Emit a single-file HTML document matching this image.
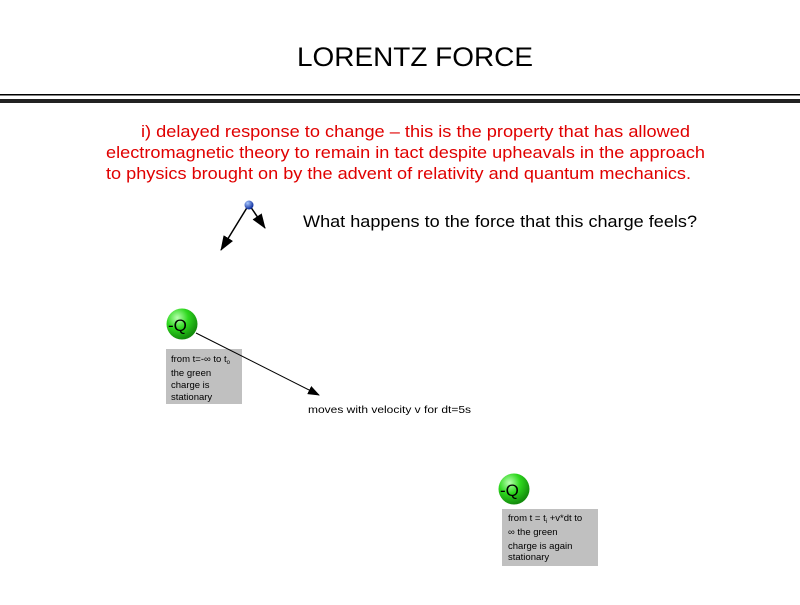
<!DOCTYPE html>
<html><head><meta charset="utf-8"><style>
body{margin:0;width:800px;height:600px;background:#fff;overflow:hidden;font-family:"Liberation Sans",sans-serif}
</style></head><body>
<svg width="800" height="600" xmlns="http://www.w3.org/2000/svg" font-family="Liberation Sans, sans-serif">
<defs>
<radialGradient id="g" cx="0.35" cy="0.3" r="0.7"><stop offset="0" stop-color="#b8ffb0"/><stop offset="0.5" stop-color="#2ed81e"/><stop offset="1" stop-color="#138c0c"/></radialGradient>
<radialGradient id="b" cx="0.35" cy="0.3" r="0.7"><stop offset="0" stop-color="#a8c8ff"/><stop offset="1" stop-color="#0a2a9a"/></radialGradient>
<marker id="a" markerWidth="12" markerHeight="9" refX="11" refY="4.5" orient="auto" markerUnits="userSpaceOnUse"><path d="M0,0 L12,4.5 L0,9 z" fill="#000"/></marker>
<marker id="a2" markerWidth="15" markerHeight="11" refX="14" refY="5.5" orient="auto" markerUnits="userSpaceOnUse"><path d="M0,0 L15,5.5 L0,11 z" fill="#000"/></marker>
</defs>
<text x="297" y="66" font-size="27" textLength="236" lengthAdjust="spacingAndGlyphs">LORENTZ FORCE</text>
<rect x="0" y="94" width="800" height="1.5" fill="#000"/>
<rect x="0" y="99" width="800" height="4" fill="#222"/>
<g fill="#e00000" font-size="17" lengthAdjust="spacingAndGlyphs">
<text x="141" y="137" textLength="549" lengthAdjust="spacingAndGlyphs">i) delayed response to change – this is the property that has allowed</text>
<text x="106" y="158" textLength="599" lengthAdjust="spacingAndGlyphs">electromagnetic theory to remain in tact despite upheavals in the approach</text>
<text x="106" y="179" textLength="585" lengthAdjust="spacingAndGlyphs">to physics brought on by the advent of relativity and quantum mechanics.</text>
</g>
<text x="303" y="227" font-size="17" textLength="394" lengthAdjust="spacingAndGlyphs">What happens to the force that this charge feels?</text>
<line x1="248" y1="206" x2="221" y2="250" stroke="#000" stroke-width="1.5" marker-end="url(#a2)"/>
<line x1="250" y1="206" x2="265" y2="228" stroke="#000" stroke-width="1.5" marker-end="url(#a2)"/>
<circle cx="249" cy="205" r="4.5" fill="url(#b)"/>
<rect x="166" y="349" width="76" height="55" fill="#c0c0c0"/>
<g font-size="9.5"><text x="171" y="362">from t=-∞  to t<tspan font-size="6" dy="2">o</tspan></text>
<text x="171" y="376">the green</text><text x="171" y="388">charge is</text><text x="171" y="400">stationary</text></g>
<line x1="196" y1="333" x2="319" y2="395" stroke="#000" stroke-width="1" marker-end="url(#a)"/>
<circle cx="182" cy="324" r="15.5" fill="url(#g)"/>
<text x="168" y="331" font-size="17">-Q</text>
<text x="308" y="413" font-size="10.5" textLength="163" lengthAdjust="spacingAndGlyphs">moves with velocity v for dt=5s</text>
<rect x="502" y="509" width="96" height="57" fill="#c0c0c0"/>
<g font-size="9.5"><text x="508" y="521">from t =  t<tspan font-size="6" dy="2">i</tspan><tspan dy="-2"> +v*dt  to</tspan></text>
<text x="508" y="535">∞  the green</text><text x="508" y="549">charge is again</text><text x="508" y="560">stationary</text></g>
<circle cx="514" cy="489" r="15.5" fill="url(#g)"/>
<text x="500" y="496" font-size="17">-Q</text>
</svg>
</body></html>
